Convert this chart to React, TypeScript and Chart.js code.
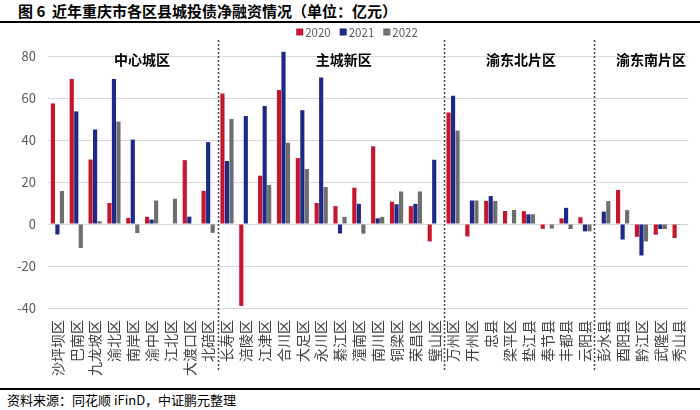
import React, { useEffect, useRef } from "react";
import { Chart, registerables } from "chart.js";

Chart.register(...registerables);

const categories = [
  "沙坪坝区", "巴南区", "九龙坡区", "渝北区", "南岸区", "渝中区", "江北区", "大渡口区", "北碚区",
  "长寿区", "涪陵区", "江津区", "合川区", "大足区", "永川区", "綦江区", "潼南区", "南川区", "铜梁区", "荣昌区", "璧山区",
  "万州区", "开州区", "忠县", "梁平区", "垫江县", "奉节县", "丰都县", "云阳县",
  "彭水县", "酉阳县", "黔江区", "武隆区", "秀山县",
];

const v2020 = [57.4, 69, 30.7, 10, 2.9, 3.4, 0, 30.4, 15.8, 62.2, -39, 23, 63.8, 31.4, 10, 8.5, 17.3, 37, 10.6, 8.5, -8.3, 53.1, -5.9, 11, 6.2, 6.1, -2.3, 2.7, 3.2, 0, 16.2, -6.1, -5.1, -6.7];
const v2021 = [-5, 53.6, 45, 69, 40.2, 2.1, 0, 3.5, 39, 30, 51.4, 56.2, 82, 54.2, 69.8, -4.5, 9.6, 2.7, 9.4, 9.6, 30.6, 61.1, 11.2, 13.3, 0, 4.6, 0, 7.7, -3.5, 5.9, -7.4, -15, -2.4, -0.3];
const v2022 = [15.7, -11.4, 1.3, 48.8, -4.3, 11.2, 12, 0, -4.2, 50, -0.3, 18.6, 38.7, 26.2, 17.6, 3.4, -4.6, 3.4, 15.5, 15.5, 0, 44.5, 11.2, 11, 6.7, 4.6, -2.2, -2.4, -3.5, 10.9, 6.6, -8.3, -2.4, -0.3];

const seriesNames = ["2020", "2021", "2022"];
const groupNames = ["中心城区", "主城新区", "渝东北片区", "渝东南片区"];
const groupLabelAt = [4.49, 15.2, 24.6, 31.5];
const groupBoundaries = [9, 21, 29];

const COLORS = ["#C5162E", "#1C2A87", "#6E6E6E"];
const FONT = "'Noto Sans CJK SC', 'Noto Sans', sans-serif";
const CANVAS_TOP = 18;
const CANVAS_H = 370;

const groupPlugin = {
  id: "groups",
  afterDraw(chart: any) {
    const ctx = chart.ctx;
    const area = chart.chartArea;
    const w = area.width / categories.length;
    ctx.save();
    // separators
    ctx.strokeStyle = "#444";
    ctx.lineWidth = 1.5;
    ctx.setLineDash([2, 2]);
    groupBoundaries.forEach((b) => {
      const x = Math.round(area.left + b * w) + 0.5;
      ctx.beginPath();
      ctx.moveTo(x, 40 - CANVAS_TOP);
      ctx.lineTo(x, 372 - CANVAS_TOP);
      ctx.stroke();
    });
    ctx.setLineDash([]);
    // group names
    ctx.fillStyle = "#000";
    ctx.font = `bold 14px ${FONT}`;
    ctx.textAlign = "center";
    ctx.textBaseline = "middle";
    groupNames.forEach((n, i) => {
      const x = area.left + (groupLabelAt[i] + 0.5) * w;
      ctx.fillText(n, x, 60 - CANVAS_TOP);
    });
    // legend
    ctx.font = `11.5px ${FONT}`;
    ctx.textAlign = "left";
    const box = 7;
    const gap = 2;
    const itemGap = 9;
    const widths = seriesNames.map((n) => box + gap + ctx.measureText(n).width);
    const total = widths.reduce((a, b) => a + b, 0) + itemGap * (seriesNames.length - 1);
    let x = 357 - total / 2;
    const y = 32 - CANVAS_TOP;
    seriesNames.forEach((n, i) => {
      ctx.fillStyle = COLORS[i];
      ctx.fillRect(x, y - box / 2, box, box);
      ctx.fillStyle = "#595959";
      ctx.fillText(n, x + box + gap, y + 0.5);
      x += widths[i] + itemGap;
    });
    ctx.restore();
  },
};

export default function App() {
  const ref = useRef<HTMLCanvasElement>(null);
  useEffect(() => {
    const data = [v2020, v2021, v2022];
    const chart = new Chart(ref.current!, {
      type: "bar",
      data: {
        labels: categories,
        datasets: seriesNames.map((n, i) => ({
          label: n,
          data: data[i],
          backgroundColor: COLORS[i],
          borderWidth: 0,
          categoryPercentage: 0.72,
          barPercentage: 0.92,
          clip: false as any,
        })),
      },
      options: {
        responsive: false,
        animation: false,
        devicePixelRatio: 1,
        layout: { padding: { left: 0, right: 4, top: 38, bottom: 8 } },
        plugins: {
          legend: { display: false },
          tooltip: { enabled: false },
          title: { display: false },
        },
        scales: {
          x: {
            grid: { display: false },
            border: { display: false },
            ticks: {
              autoSkip: false,
              maxRotation: 90,
              minRotation: 90,
              padding: 4,
              color: "#404040",
              font: { family: FONT, size: 14 },
            },
          },
          y: {
            min: -40,
            max: 80,
            afterFit: (s: any) => {
              s.width = 48;
            },
            grid: { color: "#d9d9d9", drawTicks: false },
            border: { display: false },
            ticks: {
              stepSize: 20,
              padding: 12,
              color: "#595959",
              font: { family: FONT, size: 13 },
            },
          },
        },
      },
      plugins: [groupPlugin],
    });
    return () => chart.destroy();
  }, []);

  return (
    <div style={{ position: "absolute", left: 0, top: 0, width: 700, height: 410, background: "#fff", overflow: "hidden", fontFamily: FONT }}>
      <div style={{ position: "absolute", left: 18, top: 1, fontSize: 15, fontWeight: "bold", color: "#000", whiteSpace: "nowrap", lineHeight: "20px" }}>
        图 6&nbsp;&nbsp;近年重庆市各区县城投债净融资情况（单位：亿元）
      </div>
      <canvas ref={ref} width={700} height={CANVAS_H} style={{ position: "absolute", left: 0, top: CANVAS_TOP, width: 700, height: CANVAS_H }} />
      <div style={{ position: "absolute", left: 0, top: 21, width: 700, height: 2, background: "#000" }} />
      <div style={{ position: "absolute", left: 0, top: 388, width: 700, height: 2, background: "#000" }} />
      <div style={{ position: "absolute", left: 7, top: 391, fontSize: 13, color: "#000", whiteSpace: "nowrap", lineHeight: "17px" }}>
        资料来源：同花顺 iFinD，中证鹏元整理
      </div>
    </div>
  );
}
